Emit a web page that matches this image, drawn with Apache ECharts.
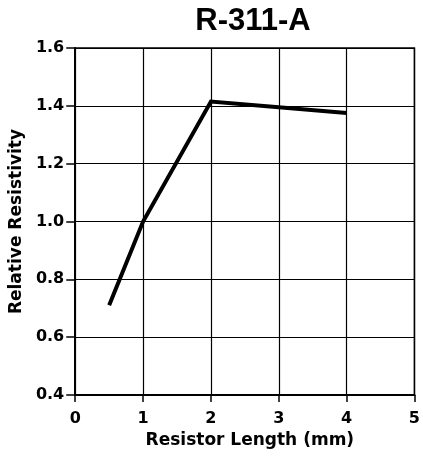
<!DOCTYPE html>
<html>
<head>
<meta charset="utf-8">
<script src="https://cdn.jsdelivr.net/npm/echarts@6/dist/echarts.min.js"></script>
<style>
  html, body { margin: 0; padding: 0; background: #fff; }
  #chart { width: 423px; height: 458px; }
</style>
</head>
<body>
<div id="chart"></div>
<script>
// Resistor length (mm) and measured relative resistivity
const lengths = [0.5, 1, 2, 3, 4];
const resistivity = [0.71, 1.0, 1.415, 1.395, 1.375];
const xTicks = [0, 1, 2, 3, 4, 5];
const yTicks = [0.4, 0.6, 0.8, 1.0, 1.2, 1.4, 1.6];

const titleFont = 'Arial, "Liberation Sans", sans-serif';
const axisFont = '"DejaVu Sans", Verdana, sans-serif';
const chart = echarts.init(document.getElementById('chart'));

chart.setOption({
  animation: false,
  title: {
    text: 'R-311-A',
    left: 248,
    top: 1,
    textAlign: 'center',
    textStyle: { fontFamily: titleFont, fontSize: 31, fontWeight: 'bold', color: '#000' }
  },
  grid: { left: 73, right: 5, top: 48, bottom: 63, containLabel: false, show: true, borderColor: '#000', borderWidth: 1.5 },
  xAxis: {
    type: 'value',
    min: xTicks[0],
    max: xTicks[xTicks.length - 1],
    interval: 1,
    name: 'Resistor Length (mm)',
    nameLocation: 'middle',
    nameGap: 37,
    nameTextStyle: { fontFamily: axisFont, fontSize: 17, fontWeight: 'bold', color: '#000', padding: [0, 0, 0, 10] },
    axisLine: { lineStyle: { color: '#000', width: 2 } },
    axisTick: { show: true, length: 7, lineStyle: { color: '#000', width: 1.5 } },
    axisLabel: { fontFamily: axisFont, fontSize: 16, fontWeight: 'bold', color: '#000', margin: 16 },
    splitLine: { show: true, lineStyle: { color: '#000', width: 1.2 } }
  },
  yAxis: {
    type: 'value',
    min: yTicks[0],
    max: yTicks[yTicks.length - 1],
    interval: 0.2,
    name: 'Relative Resistivity',
    nameLocation: 'middle',
    nameGap: 41,
    nameTextStyle: { fontFamily: axisFont, fontSize: 17, fontWeight: 'bold', color: '#000' },
    axisLine: { show: true, lineStyle: { color: '#000', width: 2 } },
    axisTick: { show: true, length: 9, lineStyle: { color: '#000', width: 1.5 } },
    axisLabel: {
      fontFamily: axisFont, fontSize: 16, fontWeight: 'bold', color: '#000', margin: 11,
      formatter: v => v.toFixed(1)
    },
    splitLine: { show: true, lineStyle: { color: '#000', width: 1.2 } }
  },
  series: [{
    type: 'line',
    data: lengths.map((x, i) => [x, resistivity[i]]),
    showSymbol: false,
    lineStyle: { color: '#000', width: 4, cap: 'butt', join: 'miter' }
  }]
});
</script>
</body>
</html>
